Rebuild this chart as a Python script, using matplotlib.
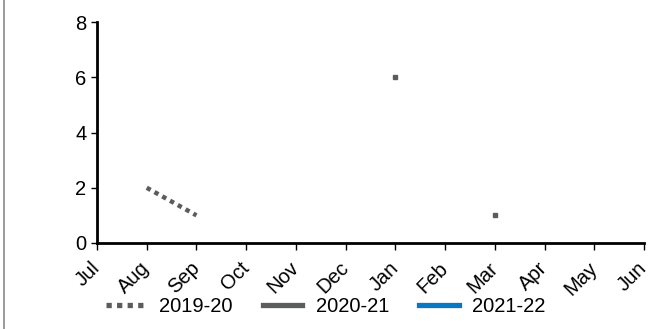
import numpy as np
import matplotlib
matplotlib.use("Agg")
import matplotlib.pyplot as plt
from matplotlib.lines import Line2D

months = ["Jul", "Aug", "Sep", "Oct", "Nov", "Dec", "Jan", "Feb", "Mar", "Apr", "May", "Jun"]
s2019_20 = [np.nan, 2, 1, np.nan, np.nan, np.nan, np.nan, np.nan, np.nan, np.nan, np.nan, np.nan]
s2020_21 = [np.nan, np.nan, np.nan, np.nan, np.nan, np.nan, 6, np.nan, 1, np.nan, np.nan, np.nan]
s2021_22 = [np.nan] * 12
yticks = [0, 2, 4, 6, 8]

plt.rcParams['font.family'] = ['Liberation Sans', 'DejaVu Sans']

W, H = 657, 329
fig = plt.figure(figsize=(W / 100, H / 100), dpi=100)
ax = fig.add_axes([97 / W, 1 - 243 / H, (644 - 97) / W, (243 - 22) / H])

x = np.arange(len(months))
gray = '#5b5c5e'
blue = '#0a77c2'
ax.plot(x, s2019_20, color=gray, lw=3.2, ls=(0, (1, 1)), solid_capstyle='butt',
        dash_capstyle='butt', label='2019-20')
ax.plot(x, s2020_21, color=gray, lw=3.2, marker='s', ms=3.5, mec=gray, mfc=gray,
        label='2020-21')
ax.plot(x, s2021_22, color=blue, lw=3.2, label='2021-22')

ax.set_xlim(0, len(months) - 1)
ax.set_ylim(0, 8)
ax.set_yticks(yticks)
ax.set_xticks(x)
ax.set_xticklabels(months, rotation=45, ha='right', va='center', rotation_mode='anchor')
ax.tick_params(axis='y', labelsize=14.5, direction='out', color='black', width=1,
               length=4, pad=3.5)
ax.tick_params(axis='x', labelsize=14.5, direction='out', color='black', width=1,
               length=5, pad=11)
for side in ['top', 'right']:
    ax.spines[side].set_visible(False)
for side in ['left', 'bottom']:
    ax.spines[side].set_linewidth(2)
    ax.spines[side].set_color('black')

handles = [Line2D([], [], color=gray, lw=3.8, ls=(0, (1, 1))),
           Line2D([], [], color=gray, lw=3.8),
           Line2D([], [], color=blue, lw=3.8)]
fig.legend(handles, ['2019-20', '2020-21', '2021-22'], loc='center',
           bbox_to_anchor=(326 / W, 1 - 307 / H), ncol=3, frameon=False,
           fontsize=14.5, handlelength=1.95, handletextpad=0.68, columnspacing=1.5)

fig.add_artist(Line2D([3.5 / W, 3.5 / W], [0, 1], color='#8a8a8a', lw=1.2,
                      transform=fig.transFigure))

fig.savefig('out.png', dpi=100)
